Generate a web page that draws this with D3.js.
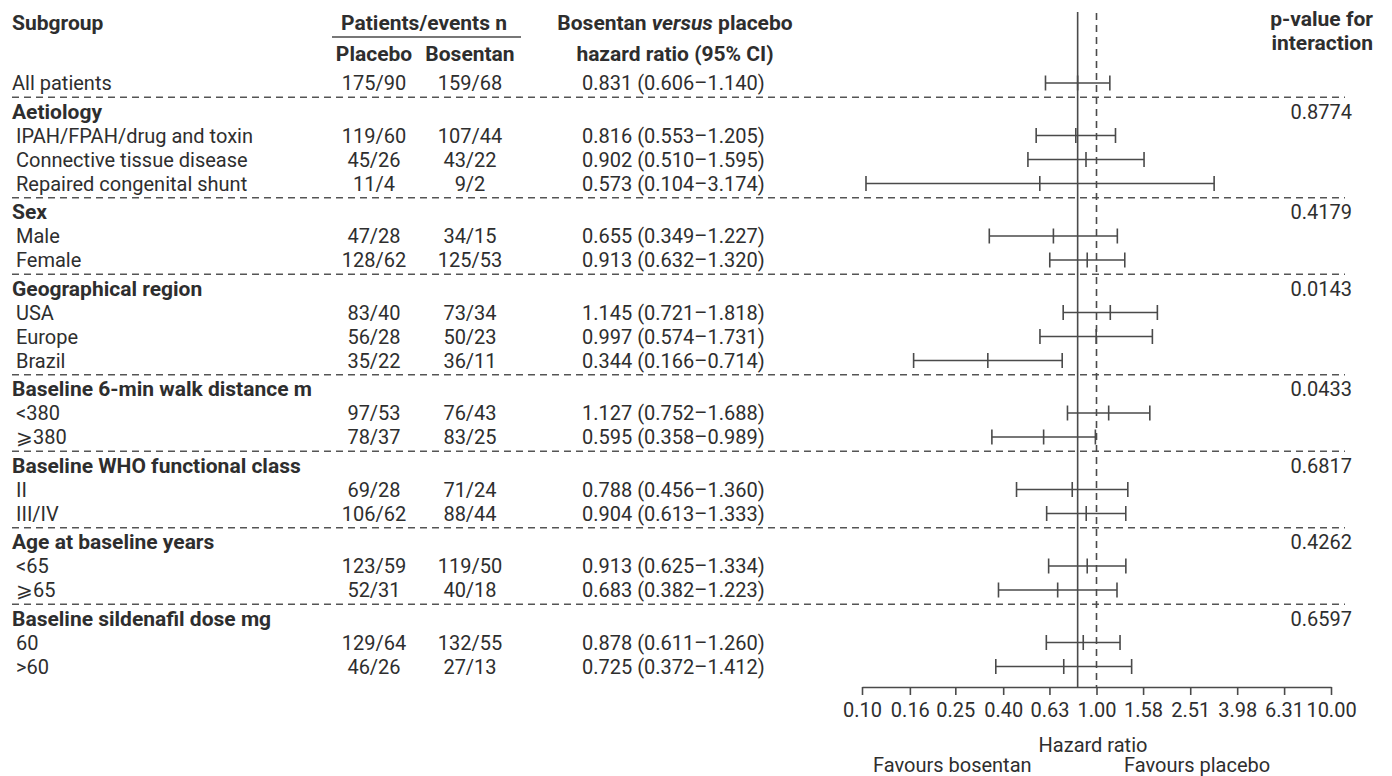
<!DOCTYPE html>
<html>
<head>
<meta charset="utf-8">
<script src="https://cdn.jsdelivr.net/npm/d3@7"></script>
<style>
  html, body { margin: 0; padding: 0; background: #fff; }
  svg { display: block; }
  text { font-family: Roboto, "Open Sans", sans-serif; font-size: 20px; fill: #2e2e2e; }
  .bold { font-weight: 700; font-size: 21px; }
</style>
</head>
<body>
<svg id="chart" width="1392" height="776"></svg>
<script>
// ---------------- data ----------------
const groupNames = ["Aetiology", "Sex", "Geographical region", "Baseline 6-min walk distance m",
  "Baseline WHO functional class", "Age at baseline years", "Baseline sildenafil dose mg"];
const groupPValues = ["0.8774", "0.4179", "0.0143", "0.0433", "0.6817", "0.4262", "0.6597"];

const subgroups = ["All patients",
  "IPAH/FPAH/drug and toxin", "Connective tissue disease", "Repaired congenital shunt",
  "Male", "Female",
  "USA", "Europe", "Brazil",
  "<380", "\u2A7E380",
  "II", "III/IV",
  "<65", "\u2A7E65",
  "60", ">60"];
const subgroupGroup = [-1, 0, 0, 0, 1, 1, 2, 2, 2, 3, 3, 4, 4, 5, 5, 6, 6];
const placeboN  = ["175/90", "119/60", "45/26", "11/4", "47/28", "128/62", "83/40", "56/28", "35/22",
  "97/53", "78/37", "69/28", "106/62", "123/59", "52/31", "129/64", "46/26"];
const bosentanN = ["159/68", "107/44", "43/22", "9/2", "34/15", "125/53", "73/34", "50/23", "36/11",
  "76/43", "83/25", "71/24", "88/44", "119/50", "40/18", "132/55", "27/13"];
const hr     = [0.831, 0.816, 0.902, 0.573, 0.655, 0.913, 1.145, 0.997, 0.344, 1.127, 0.595, 0.788, 0.904, 0.913, 0.683, 0.878, 0.725];
const ciLow  = [0.606, 0.553, 0.510, 0.104, 0.349, 0.632, 0.721, 0.574, 0.166, 0.752, 0.358, 0.456, 0.613, 0.625, 0.382, 0.611, 0.372];
const ciHigh = [1.140, 1.205, 1.595, 3.174, 1.227, 1.320, 1.818, 1.731, 0.714, 1.688, 0.989, 1.360, 1.333, 1.334, 1.223, 1.260, 1.412];
const axisTicks = [0.10, 0.16, 0.25, 0.40, 0.63, 1.00, 1.58, 2.51, 3.98, 6.31, 10.00];
const overallHR = 0.831;
const nullHR = 1.0;

// ---------------- layout ----------------
const svg = d3.select("#chart");
const lineColor = "#4a4a4a";
const x = d3.scaleLog().domain([0.1, 10]).range([862, 1331]);
const axisY = 687;
const pitch = 24, groupGap = 28.5, firstY = 83;
const colPlacebo = 374, colBosentan = 470, colHR = 582, pRight = 1352;
const sepX0 = 12, sepX1 = 1345;
const fmt = d3.format(".3f");

// compute vertical positions
const rowY = [];
const headerY = [];
const sepY = [];
let y = firstY;
rowY[0] = y;
let lastGroup = -1;
subgroups.forEach((s, i) => {
  if (i === 0) return;
  const g = subgroupGroup[i];
  if (g !== lastGroup) {
    sepY.push(y + groupGap / 2);
    y += groupGap;
    headerY[g] = y;
    lastGroup = g;
  }
  y += pitch;
  rowY[i] = y;
});

// ---------------- header ----------------
svg.append("text").attr("class", "bold").attr("x", 12).attr("y", 30).text("Subgroup");
svg.append("text").attr("class", "bold").attr("x", 424).attr("y", 30).attr("text-anchor", "middle").text("Patients/events n");
svg.append("line").attr("x1", 332).attr("x2", 521).attr("y1", 37).attr("y2", 37)
  .attr("stroke", lineColor).attr("stroke-width", 1.5);
svg.append("text").attr("class", "bold").attr("x", colPlacebo).attr("y", 61).attr("text-anchor", "middle").text("Placebo");
svg.append("text").attr("class", "bold").attr("x", colBosentan).attr("y", 61).attr("text-anchor", "middle").text("Bosentan");
const t1 = svg.append("text").attr("class", "bold").attr("x", 675).attr("y", 30).attr("text-anchor", "middle");
t1.append("tspan").text("Bosentan ");
t1.append("tspan").attr("font-style", "italic").text("versus");
t1.append("tspan").text(" placebo");
svg.append("text").attr("class", "bold").attr("x", 675).attr("y", 61).attr("text-anchor", "middle").text("hazard ratio (95% CI)");
svg.append("text").attr("class", "bold").attr("x", 1373).attr("y", 26).attr("text-anchor", "end").text("p-value for");
svg.append("text").attr("class", "bold").attr("x", 1373).attr("y", 50).attr("text-anchor", "end").text("interaction");

// ---------------- separators ----------------
svg.selectAll("line.sep").data(sepY).join("line").attr("class", "sep")
  .attr("x1", sepX0).attr("x2", sepX1).attr("y1", d => d).attr("y2", d => d)
  .attr("stroke", "#555").attr("stroke-width", 1.5).attr("stroke-dasharray", "7,5");

// ---------------- group headings ----------------
svg.selectAll("text.gname").data(groupNames).join("text").attr("class", "gname bold")
  .attr("x", 12).attr("y", (d, i) => headerY[i] + 7).text(d => d);
svg.selectAll("text.pval").data(groupPValues).join("text").attr("class", "pval")
  .attr("x", pRight).attr("y", (d, i) => headerY[i] + 7).attr("text-anchor", "end").text(d => d);

// ---------------- subgroup rows ----------------
svg.selectAll("text.sub").data(subgroups).join("text").attr("class", "sub")
  .attr("x", (d, i) => i === 0 ? 12 : 16).attr("y", (d, i) => rowY[i] + 7).text(d => d);
svg.selectAll("text.pn").data(placeboN).join("text").attr("class", "pn")
  .attr("x", colPlacebo).attr("y", (d, i) => rowY[i] + 7).attr("text-anchor", "middle").text(d => d);
svg.selectAll("text.bn").data(bosentanN).join("text").attr("class", "bn")
  .attr("x", colBosentan).attr("y", (d, i) => rowY[i] + 7).attr("text-anchor", "middle").text(d => d);
svg.selectAll("text.hrt").data(hr).join("text").attr("class", "hrt")
  .attr("x", colHR).attr("y", (d, i) => rowY[i] + 7)
  .text((d, i) => `${fmt(d)} (${fmt(ciLow[i])}\u2013${fmt(ciHigh[i])})`);

// ---------------- reference lines ----------------
svg.append("line").attr("x1", x(overallHR)).attr("x2", x(overallHR)).attr("y1", 12).attr("y2", axisY)
  .attr("stroke", lineColor).attr("stroke-width", 1.6);
svg.append("line").attr("x1", x(nullHR)).attr("x2", x(nullHR)).attr("y1", 13).attr("y2", axisY)
  .attr("stroke", lineColor).attr("stroke-width", 1.6).attr("stroke-dasharray", "7,5");

// ---------------- CIs ----------------
const ci = svg.append("g");
const capH = 7.5;
hr.forEach((d, i) => {
  const yy = rowY[i];
  ci.append("line").attr("x1", x(ciLow[i])).attr("x2", x(ciHigh[i])).attr("y1", yy).attr("y2", yy)
    .attr("stroke", lineColor).attr("stroke-width", 1.6);
  [ciLow[i], d, ciHigh[i]].forEach(v => {
    ci.append("line").attr("x1", x(v)).attr("x2", x(v)).attr("y1", yy - capH).attr("y2", yy + capH)
      .attr("stroke", lineColor).attr("stroke-width", 1.6);
  });
});

// ---------------- axis ----------------
const axis = d3.axisBottom(x).tickValues(axisTicks).tickFormat(d3.format(".2f")).tickSize(8).tickSizeOuter(0);
const ax = svg.append("g").attr("transform", `translate(0,${axisY})`).call(axis);
ax.select(".domain").attr("stroke", lineColor).attr("stroke-width", 1.6);
ax.selectAll(".tick line").attr("stroke", lineColor).attr("stroke-width", 1.6);
ax.selectAll(".tick text").attr("font-family", null).attr("font-size", null).attr("fill", null)
  .attr("y", 30).attr("dy", null);

svg.append("text").attr("x", 1093).attr("y", 752).attr("text-anchor", "middle").text("Hazard ratio");
svg.append("text").attr("x", 873).attr("y", 772).text("Favours bosentan");
svg.append("text").attr("x", 1124).attr("y", 772).text("Favours placebo");
</script>
</body>
</html>
